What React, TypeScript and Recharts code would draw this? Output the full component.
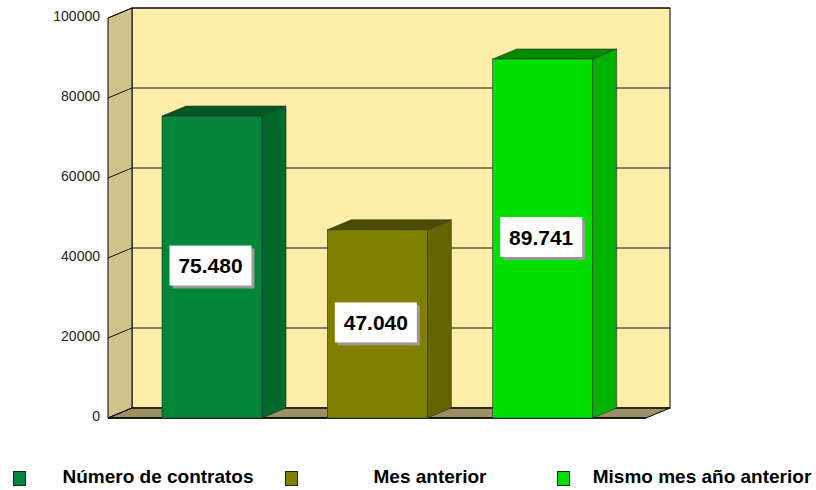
import React from 'react';
import { BarChart, Bar, XAxis, YAxis, ReferenceArea, CartesianGrid, LabelList } from 'recharts';

const categories = ['Número de contratos', 'Mes anterior', 'Mismo mes año anterior'];
const values = [75480, 47040, 89741];
const yTicks = [0, 20000, 40000, 60000, 80000, 100000];
const frontColors = ['#00853A', '#808000', '#00E000'];
const sideColors = ['#006A2C', '#646400', '#00B200'];
const topColors = ['#005A22', '#4C4C00', '#008A00'];

const data = categories.map((name, i) => ({ name, value: values[i], idx: i }));

const DX = 24;
const DY = 10;
const FONT = '"Liberation Sans", Arial, sans-serif';

const fmt = (v: number) => String(v).replace(/\B(?=(\d{3})+(?!\d))/g, '.');

const Walls = (props: any) => {
  const { x, y, width, height } = props;
  const b = y + height;
  return (
    <g>
      <rect x={x + DX} y={y - DY} width={width} height={height} fill="#FFEEAA" stroke="#000" strokeWidth={1} />
      <polygon
        points={`${x},${y} ${x + DX},${y - DY} ${x + DX},${b - DY} ${x},${b}`}
        fill="#CFC38D"
        stroke="#000"
        strokeWidth={1}
      />
      <polygon
        points={`${x},${b} ${x + DX},${b - DY} ${x + width + DX},${b - DY} ${x + width},${b}`}
        fill="#9C9066"
        stroke="#000"
        strokeWidth={1}
      />
      <line x1={x} y1={b} x2={x + width} y2={b} stroke="#000" strokeWidth={1.5} />
    </g>
  );
};

const GridLine = (props: any) => {
  const { x1, y1, x2, y2 } = props;
  return (
    <g key={props.key ?? `${y1}`}>
      <line x1={x1} y1={y1} x2={x1 + DX} y2={y1 - DY} stroke="#111" strokeWidth={1} />
      <line x1={x1 + DX} y1={y1 - DY} x2={x2 + DX} y2={y2 - DY} stroke="#111" strokeWidth={1} />
    </g>
  );
};

const Bar3D = (props: any) => {
  const { x, y, width, height, payload } = props;
  const i = payload.idx;
  const b = y + height;
  return (
    <g>
      <polygon
        points={`${x},${y} ${x + DX},${y - DY} ${x + width + DX},${y - DY} ${x + width},${y}`}
        fill={topColors[i]}
        stroke="#2a2a2a"
        strokeWidth={0.6}
      />
      <polygon
        points={`${x + width},${y} ${x + width + DX},${y - DY} ${x + width + DX},${b - DY} ${x + width},${b}`}
        fill={sideColors[i]}
        stroke="#2a2a2a"
        strokeWidth={0.6}
      />
      <rect x={x} y={y} width={width} height={height} fill={frontColors[i]} stroke="#2a2a2a" strokeWidth={0.6} />
    </g>
  );
};

const ValueLabel = (props: any) => {
  const { x, y, width, height, value } = props;
  const cx = x + width / 2 - 1.5;
  const cy = y + height / 2 - 1.5;
  const w = 82;
  const h = 40;
  return (
    <g>
      <rect x={cx - w / 2 + 3} y={cy - h / 2 + 3} width={w} height={h} fill="#9A9A9A" />
      <rect x={cx - w / 2} y={cy - h / 2} width={w} height={h} fill="#FFFFFF" />
      <text
        x={cx}
        y={cy}
        textAnchor="middle"
        dominantBaseline="central"
        fontFamily={FONT}
        fontWeight="bold"
        fontSize={21}
        fill="#000"
      >
        {fmt(Number(value))}
      </text>
    </g>
  );
};

const YTick = (props: any) => {
  const { x, y, payload } = props;
  return (
    <text x={x} y={y - 2} textAnchor="end" dominantBaseline="central" fontFamily={FONT} fontSize={14} fill="#222">
      {payload.value}
    </text>
  );
};

export default function App() {
  return (
    <div style={{ position: 'absolute', left: 0, top: 0, width: 816, height: 490, background: '#FFFFFF' }}>
      <BarChart width={816} height={490} data={data} margin={{ top: 18, right: 170, bottom: 72, left: 0 }}>
        <XAxis dataKey="name" hide padding={{ left: 21, right: 21 }} />
        <XAxis xAxisId="full" dataKey="idx" type="number" hide />
        <YAxis
          domain={[0, 100000]}
          ticks={yTicks}
          width={108}
          tickLine={false}
          axisLine={false}
          tick={<YTick />}
          interval={0}
        />
        <ReferenceArea xAxisId="full" y1={0} y2={100000} shape={<Walls />} ifOverflow="visible" zIndex={-200} />
        <CartesianGrid vertical={false} horizontal={(p: any) => <GridLine {...p} />} zIndex={-150} />
        <Bar dataKey="value" barSize={100} shape={<Bar3D />} isAnimationActive={false}>
          <LabelList dataKey="value" content={<ValueLabel />} />
        </Bar>
      </BarChart>
      <div
        style={{
          position: 'absolute',
          left: 0,
          top: 466,
          width: 816,
          display: 'flex',
          fontFamily: FONT,
          fontWeight: 'bold',
          fontSize: 19,
          lineHeight: '22px',
          color: '#000',
        }}
      >
        {categories.map((c, i) => (
          <div key={c} style={{ position: 'relative', width: 272, height: 22, whiteSpace: 'nowrap' }}>
            <div
              style={{
                position: 'absolute',
                left: 13,
                top: 5,
                width: 11,
                height: 13,
                background: frontColors[i],
                border: '1px solid #222',
              }}
            />
            <div style={{ position: 'absolute', left: 30, width: 256, textAlign: 'center' }}>{c}</div>
          </div>
        ))}
      </div>
    </div>
  );
}
